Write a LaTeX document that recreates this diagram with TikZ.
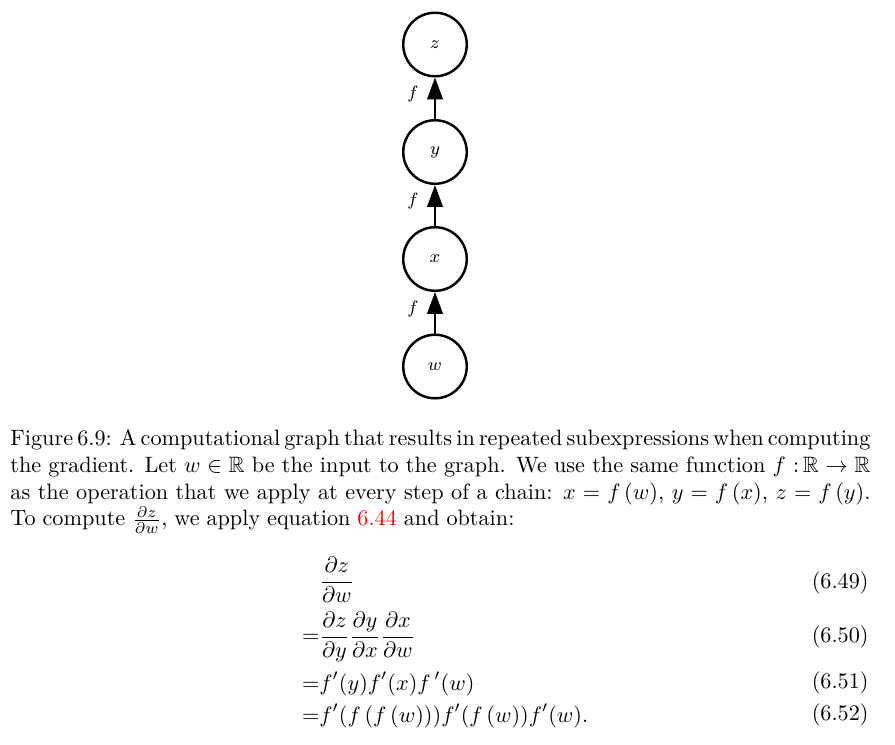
\documentclass[tikz,border=0pt]{standalone}
\usepackage{amsmath}
\usepackage{amssymb}
\usepackage{amsfonts}
\usetikzlibrary{arrows.meta}

\begin{document}
\begin{tikzpicture}[x=0.45pt,y=-0.45pt,
  vertex/.style={draw,circle,line width=1.1pt,minimum size=28.6pt,inner sep=0pt,font=\footnotesize},
  link/.style={line width=0.9pt,-{Triangle[width=7pt,length=9.8pt]}},
  flabel/.style={left=7pt,pos=0.6,font=\footnotesize,inner sep=0pt}]
\path[use as bounding box] (0,0) rectangle (895,744); %page of 895 x 744

%Shape: Circle
\node[vertex] (w) at (435,366.5) {$w$};
%Shape: Circle
\node[vertex] (x) at (435,259) {$x$};
%Shape: Circle
\node[vertex] (y) at (435,152) {$y$};
%Shape: Circle
\node[vertex] (z) at (435,44.5) {$z$};

%Straight Lines
\draw[link] (w) -- node[flabel] {$f$} (x);
%Straight Lines
\draw[link] (x) -- node[flabel] {$f$} (y);
%Straight Lines
\draw[link] (y) -- node[flabel] {$f$} (z);

% Text Node
\node[anchor=north west,inner sep=0pt,text width=387pt,align=justify] (caption) at (10,429.6) {\spaceskip=3.1pt plus 2pt minus 2.2pt Figure 6.9: A computational graph that results in repeated subexpressions when computing\linebreak the gradient. Let $w\in\mathbb{R}$ be the input to the graph. We use the same function $f\ {:}\,\mathbb{R}\rightarrow\mathbb{R}$\linebreak as the operation that we apply at every step of a chain: $x=f\,(w)$, $y=f\,(x)$, $z=f\,(y)$.\linebreak To compute $\frac{\partial z}{\partial w}$, we apply equation \textcolor{red}{6.44} and obtain:};

% Text Node
\node[anchor=base west,inner sep=0pt] (eqa) at (319,587.5) {$\displaystyle \frac{\partial z}{\partial w}$};
% Text Node
\node[anchor=base west,inner sep=0pt] (eqb) at (319,642.5) {$\displaystyle \llap{$=$}\frac{\partial z}{\partial y}\frac{\partial y}{\partial x}\frac{\partial x}{\partial w}$};
% Text Node
\node[anchor=base west,inner sep=0pt] (eqc) at (319,690) {$\displaystyle \llap{$=$}f'(y)f'(x)f\,'(w)$};
% Text Node
\node[anchor=base west,inner sep=0pt] (eqd) at (319,722) {$\displaystyle \llap{$=$}f'(f\,(f\,(w)))f'(f\,(w))f'(w).$};

% Text Node
\node[anchor=base east,inner sep=0pt] (numa) at (869,588.5) {(6.49)};
% Text Node
\node[anchor=base east,inner sep=0pt] (numb) at (869,642.5) {(6.50)};
% Text Node
\node[anchor=base east,inner sep=0pt] (numc) at (869,688.5) {(6.51)};
% Text Node
\node[anchor=base east,inner sep=0pt] (numd) at (869,720.5) {(6.52)};

\end{tikzpicture}
\end{document}
